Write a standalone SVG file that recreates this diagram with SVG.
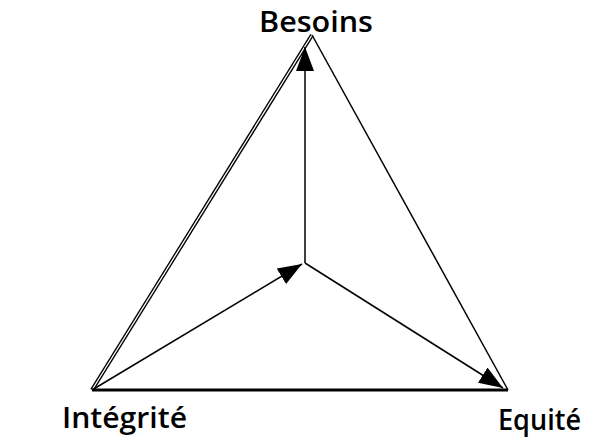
<svg xmlns="http://www.w3.org/2000/svg" width="599" height="440" viewBox="0 0 599 440">
<style>
.lbl{font-family:"Open Sans","Liberation Sans",sans-serif;font-weight:600;font-size:28px;fill:#000}
.ln{stroke:#000;fill:none;stroke-width:1.5}
</style>
<defs>
<marker id="ah" viewBox="0 0 24 18" refX="24" refY="9" markerWidth="24" markerHeight="18" markerUnits="userSpaceOnUse" orient="auto">
<path d="M0,0 L24,9 L0,18 Z" fill="#000"/>
</marker>
</defs>
<rect width="599" height="440" fill="#fff"/>
<g id="connectors">
<line x1="92" y1="390" x2="312" y2="35" stroke="#000" stroke-width="4"/>
<line x1="92" y1="390" x2="312" y2="35" stroke="#fff" stroke-width="1.3"/>
<line class="ln" x1="312" y1="35" x2="508" y2="390"/>
<line x1="92" y1="390" x2="508" y2="390" stroke="#000" stroke-width="3"/>
<line class="ln" x1="305" y1="263" x2="305" y2="47" marker-end="url(#ah)"/>
<line class="ln" x1="92" y1="390" x2="302" y2="264" marker-end="url(#ah)"/>
<line class="ln" x1="305" y1="263" x2="503" y2="388" marker-end="url(#ah)"/>
</g>
<g id="besoins"><text class="lbl" x="259" y="32" textLength="114" lengthAdjust="spacingAndGlyphs">Besoins</text></g>
<g id="integrite"><text class="lbl" x="62" y="428" textLength="125" lengthAdjust="spacingAndGlyphs">Intégrité</text></g>
<g id="equite"><text class="lbl" x="498" y="430" textLength="83" lengthAdjust="spacingAndGlyphs">Equité</text></g>
</svg>
